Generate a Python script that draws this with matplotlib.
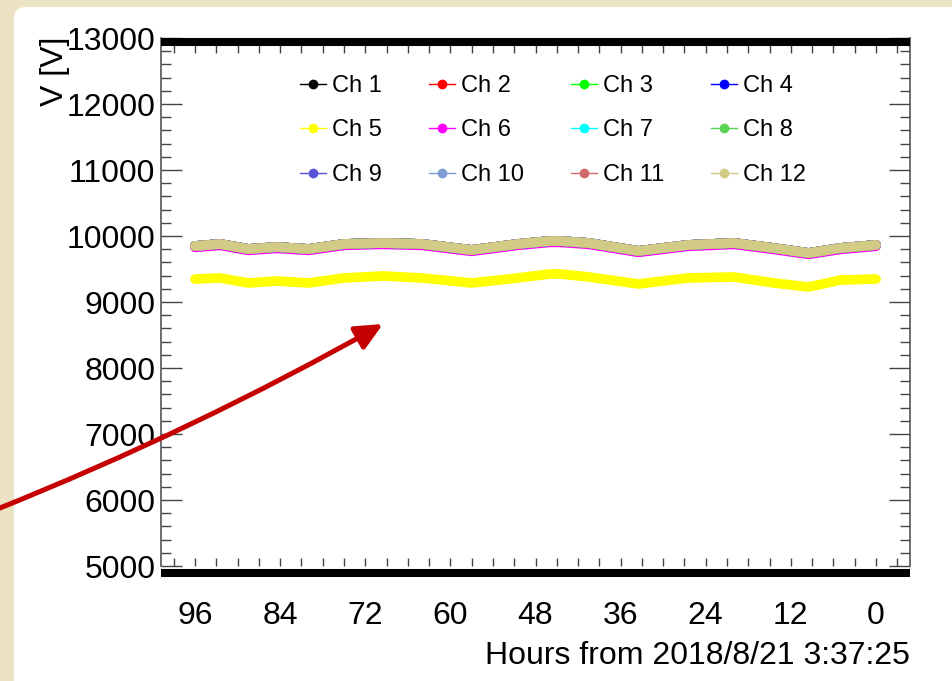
import matplotlib
matplotlib.use('Agg')
import matplotlib.pyplot as plt
from matplotlib.lines import Line2D
from matplotlib.patches import FancyBboxPatch, FancyArrowPatch
from matplotlib.transforms import IdentityTransform
from matplotlib.ticker import MultipleLocator

plt.rcParams['font.family'] = ['Liberation Sans', 'DejaVu Sans']

# hours before 2018/8/21 3:37:25
hours = [96, 92.5, 88.5, 84.5, 80, 75, 69.5, 64, 57, 50.5, 46, 44.5,
         40.5, 33.5, 26.5, 20, 14.5, 9.5, 5, 0]
# Ch 1-4, 7-12 sit on top of each other
v_main = [9848, 9879, 9803, 9833, 9803, 9879, 9894, 9879, 9788, 9879, 9924, 9924,
          9894, 9773, 9864, 9894, 9818, 9742, 9818, 9864]
v_ch6 = [9828, 9859, 9783, 9813, 9783, 9859, 9874, 9859, 9768, 9859, 9904, 9904,
         9874, 9753, 9844, 9874, 9798, 9722, 9798, 9844]
v_ch5 = [9348, 9364, 9288, 9318, 9288, 9364, 9394, 9364, 9288, 9364, 9424, 9424,
         9379, 9273, 9364, 9379, 9290, 9227, 9333, 9348]

channels = ['Ch %d' % i for i in range(1, 13)]
colors = ['#000000', '#ff0000', '#00ff00', '#0000ff', '#ffff00', '#ff00ff',
          '#00ffff', '#59d454', '#5954d8', '#7d9bd4', '#d06b6b', '#d2cb86']

W, H = 953, 681
fig = plt.figure(figsize=(W / 100, H / 100), dpi=100)
fig.patch.set_facecolor('#ece3c4')

# white slide panel
panel = FancyBboxPatch((14, -30), 1000, H - 7 + 30,
                       boxstyle='round,pad=0,rounding_size=12',
                       transform=IdentityTransform(), facecolor='white',
                       edgecolor='none', zorder=-1)
fig.add_artist(panel)

ax = fig.add_axes([161 / W, 1 - 566 / H, 749 / W, 528 / H])
ax.set_facecolor('none')

for i, name in enumerate(channels):
    if name == 'Ch 5':
        vals = v_ch5
    elif name == 'Ch 6':
        vals = v_ch6
    else:
        vals = v_main
    ax.plot(hours, vals, color=colors[i], lw=7, solid_capstyle='round',
            solid_joinstyle='round', zorder=2 + i * 0.01)

ax.set_xlim(100.8, -4.8)
ax.set_ylim(5000, 13000)
ax.xaxis.set_major_locator(MultipleLocator(12))
ax.xaxis.set_minor_locator(MultipleLocator(3))
ax.yaxis.set_major_locator(MultipleLocator(1000))
ax.yaxis.set_minor_locator(MultipleLocator(200))

tc = '#444444'
ax.tick_params(axis='y', which='both', direction='in', left=True, right=True,
               color=tc, width=1)
ax.tick_params(axis='y', which='major', length=15, labelsize=23, pad=4)
ax.tick_params(axis='y', which='minor', length=7.5)
ax.tick_params(axis='x', which='both', direction='in', bottom=True, top=False,
               length=6, color=tc, width=1, labelsize=23, pad=25)

sec = ax.secondary_xaxis('top')
sec.xaxis.set_major_locator(MultipleLocator(3))
sec.tick_params(direction='in', length=11, color=tc, width=1, labeltop=False)
sec.spines['top'].set_visible(False)

for s in ['top', 'bottom']:
    ax.spines[s].set_visible(False)
for s in ['left', 'right']:
    ax.spines[s].set_color('#555555')
    ax.spines[s].set_linewidth(1.2)

# thick black frame bars
for yb in (-0.0133, 0.9924):
    ax.plot([0, 1], [yb, yb], transform=ax.transAxes, color='black', lw=5.8,
            solid_capstyle='butt', clip_on=False, zorder=5)

ax.set_xlabel('Hours from 2018/8/21 3:37:25', fontsize=23, loc='right')
ax.xaxis.set_label_coords(1.0, -0.142)
ax.text(-0.1415, 1.002, 'V [V]', transform=ax.transAxes, rotation=90,
        ha='center', va='top', fontsize=23)

# legend, filled row by row
order = [0, 4, 8, 1, 5, 9, 2, 6, 10, 3, 7, 11]
handles = [Line2D([], [], color=colors[i], lw=1, marker='o', ms=6) for i in order]
labels = [channels[i] for i in order]
ax.legend(handles, labels, ncol=4, loc='upper left',
          bbox_to_anchor=(300 / W, 1 - 75 / H), bbox_transform=fig.transFigure,
          frameon=False, fontsize=17, handlelength=1.09, handletextpad=0.26,
          columnspacing=2.0, labelspacing=0.95, borderpad=0, borderaxespad=0)

arrow = FancyArrowPatch((-5, H - 510), (383, H - 324), transform=IdentityTransform(),
                        connectionstyle='arc3,rad=0.033',
                        arrowstyle='-|>,head_length=0.9,head_width=0.42',
                        mutation_scale=18, lw=3.6, color='#c40000',
                        shrinkA=0, shrinkB=0, zorder=10)
fig.add_artist(arrow)

fig.savefig('out.png', dpi=100, facecolor=fig.get_facecolor())
